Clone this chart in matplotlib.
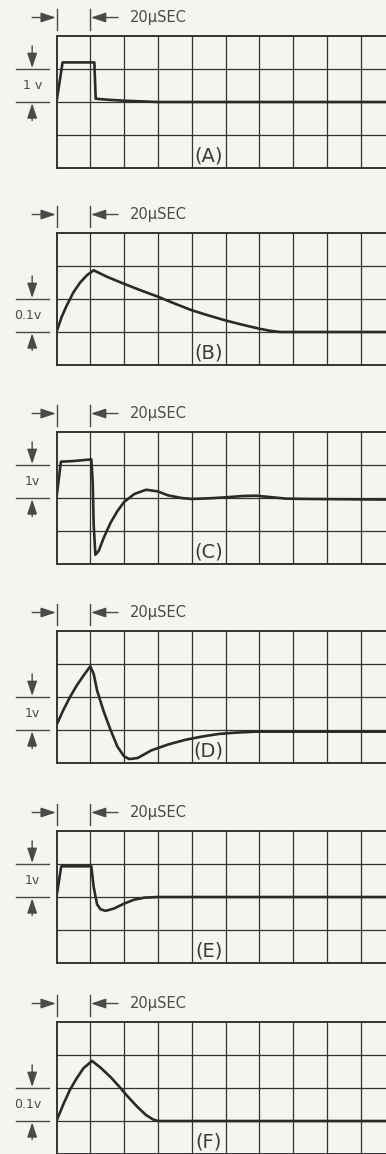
import numpy as np
import matplotlib.pyplot as plt

plt.rcParams['font.family'] = ['DejaVu Sans']

# waveform points, x in divisions (20 usec / div), y in divisions from bottom of screen
t_A = [0, 0.18, 1.12, 1.16, 1.5, 2.0, 2.5, 3.0, 10]
v_A = [2.0, 3.2, 3.2, 2.1, 2.07, 2.04, 2.02, 2.0, 2.0]

t_B = [0, 0.15, 0.3, 0.5, 0.7, 0.9, 1.1, 1.5, 2.0, 2.5, 3.0, 3.5, 4.0, 4.5, 5.0, 5.5, 6.0, 6.3, 6.6, 10]
v_B = [1.0, 1.45, 1.8, 2.2, 2.5, 2.72, 2.87, 2.67, 2.46, 2.26, 2.07, 1.86, 1.66, 1.5, 1.35, 1.22, 1.1, 1.04, 1.0, 1.0]

t_C = [0, 0.13, 0.5, 1.03, 1.07, 1.1, 1.15, 1.25, 1.4, 1.6, 1.8, 2.0, 2.3, 2.65, 3.0, 3.3, 3.7, 4.0,
       4.5, 5.0, 5.5, 5.9, 6.3, 6.8, 7.5, 10]
v_C = [2.0, 3.1, 3.12, 3.17, 2.5, 1.2, 0.28, 0.4, 0.8, 1.25, 1.6, 1.88, 2.12, 2.25, 2.2, 2.08, 2.0, 1.97,
       1.99, 2.02, 2.06, 2.07, 2.03, 1.98, 1.97, 1.95]

t_D = [0, 0.2, 0.4, 0.6, 0.8, 1.0, 1.1, 1.2, 1.4, 1.6, 1.8, 2.0, 2.15, 2.4, 2.8, 3.3, 3.8, 4.3, 4.8, 5.3, 5.9, 10]
v_D = [1.15, 1.6, 2.0, 2.35, 2.65, 2.93, 2.7, 2.2, 1.55, 1.0, 0.5, 0.2, 0.12, 0.15, 0.38, 0.56, 0.7, 0.8,
       0.88, 0.92, 0.95, 0.95]

t_E = [0, 0.14, 1.03, 1.1, 1.2, 1.3, 1.45, 1.7, 2.0, 2.3, 2.6, 3.0, 10]
v_E = [2.0, 2.93, 2.93, 2.3, 1.78, 1.63, 1.58, 1.65, 1.8, 1.92, 1.98, 2.0, 2.0]

t_F = [0, 0.2, 0.4, 0.6, 0.8, 1.05, 1.3, 1.6, 1.85, 2.1, 2.4, 2.65, 2.85, 3.0, 10]
v_F = [1.0, 1.5, 1.95, 2.3, 2.6, 2.82, 2.62, 2.33, 2.05, 1.75, 1.42, 1.18, 1.05, 1.0, 1.0]

names = ['(A)', '(B)', '(C)', '(D)', '(E)', '(F)']
traces = [(t_A, v_A), (t_B, v_B), (t_C, v_C), (t_D, v_D), (t_E, v_E), (t_F, v_F)]
volt_labels = ['1 v', '0.1v', '1v', '1v', '1v', '0.1v']
volt_lines = [3, 2, 3, 2, 3, 2]   # upper grid line of the voltage marker
time_label = '20\u03bcSEC'

W, H = 386, 1154
bg = '#f6f4ef'
ink = '#333333'
txt = '#4a4a4a'

fig = plt.figure(figsize=(W / 100, H / 100), dpi=100, facecolor=bg)

tops = [36, 233, 432, 631, 831, 1022]
left_px, width_px, height_px = 56.5, 338, 132

for i in range(6):
    top = tops[i]
    ax = fig.add_axes([left_px / W, 1 - (top + height_px) / H, width_px / W, height_px / H])
    ax.set_facecolor(bg)
    ax.set_xlim(0, 10)
    ax.set_ylim(0, 4)
    for x in range(1, 10):
        ax.axvline(x, color=ink, lw=0.9)
    for y in range(1, 4):
        ax.axhline(y, color=ink, lw=0.9)
    for s in ax.spines.values():
        s.set_color(ink)
        s.set_linewidth(1.4)
    ax.set_xticks([])
    ax.set_yticks([])

    t, v = traces[i]
    ax.plot(t, v, color='#2a2a2a', lw=1.9, solid_joinstyle='round', solid_capstyle='round')

    ax.text(4.5, 0.36, names[i], fontsize=14, color='#3a3a3a', ha='center', va='center')

    # time marker above the screen
    ya = 4.56
    for xb in (0, 1):
        ax.plot([xb, xb], [4.18, 4.82], color=txt, lw=1.0, clip_on=False)
    arrow = dict(arrowstyle='-|>,head_length=0.9,head_width=0.3', color=txt, lw=1.0,
                 mutation_scale=10, shrinkA=0, shrinkB=0)
    ax.annotate('', xy=(-0.02, ya), xytext=(-0.72, ya), arrowprops=arrow, annotation_clip=False)
    ax.annotate('', xy=(1.02, ya), xytext=(1.82, ya), arrowprops=arrow, annotation_clip=False)
    ax.text(2.17, ya, time_label, fontsize=10.5, color=txt, ha='left', va='center')

    # voltage marker at the left
    yu = volt_lines[i]
    yl = yu - 1
    for yy in (yu, yl):
        ax.plot([-1.2, -0.22], [yy, yy], color=txt, lw=1.0, clip_on=False)
    xv = -0.72
    ax.annotate('', xy=(xv, yu + 0.03), xytext=(xv, yu + 0.7), arrowprops=arrow, annotation_clip=False)
    ax.annotate('', xy=(xv, yl - 0.04), xytext=(xv, yl - 0.56), arrowprops=arrow, annotation_clip=False)
    xl = -0.72 if '0.1' not in volt_labels[i] else -0.85
    ax.text(xl, yl + 0.5, volt_labels[i], fontsize=9, color=txt, ha='center', va='center')

fig.savefig('out.png', dpi=100, facecolor=bg)
